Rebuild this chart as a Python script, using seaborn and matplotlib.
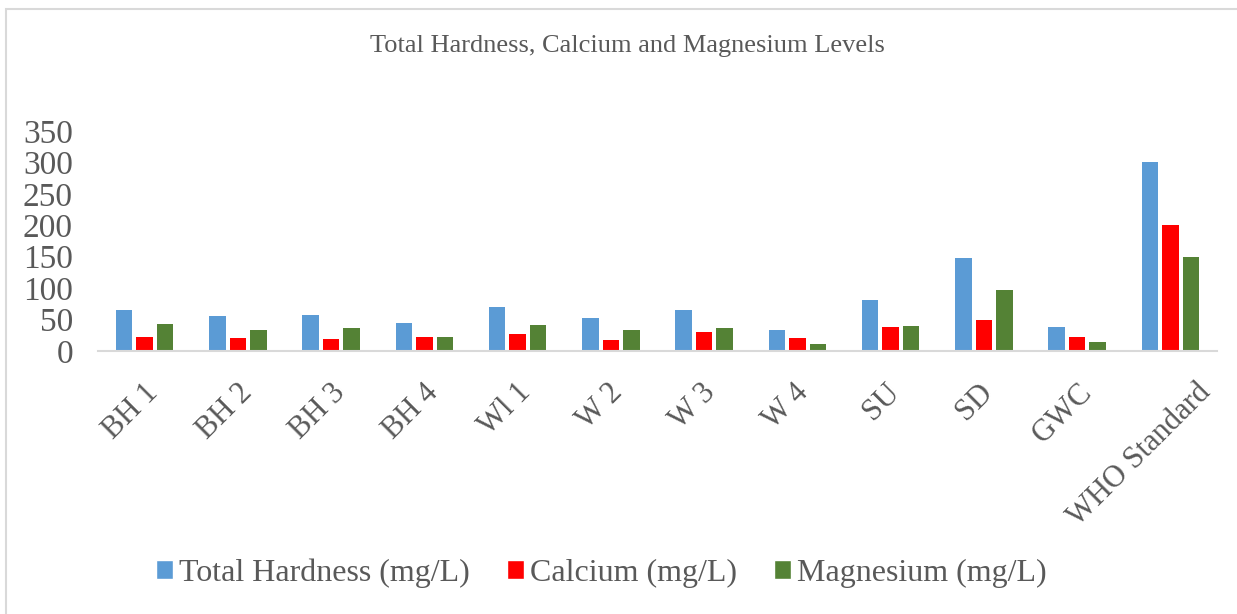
import pandas as pd
import numpy as np
import matplotlib.pyplot as plt
import matplotlib.transforms as mtransforms
import seaborn as sns
from matplotlib.patches import Rectangle, Patch

sites = ["BH 1", "BH 2", "BH 3", "BH 4", "Wl 1", "W 2", "W 3", "W 4",
         "SU", "SD", "GWC", "WHO Standard"]
total_hardness = [66, 56, 57, 45, 70, 53, 66, 33, 81, 148, 38, 300]
calcium = [22, 21, 19, 22, 27, 17, 30, 20, 39, 50, 23, 200]
magnesium = [43, 33, 36, 22, 42, 34, 36, 11, 40, 97, 14, 150]

series = ["Total Hardness (mg/L)", "Calcium (mg/L)", "Magnesium (mg/L)"]
colors = ["#5B9BD5", "#FF0000", "#548235"]

df = pd.DataFrame({"Site": sites, series[0]: total_hardness,
                   series[1]: calcium, series[2]: magnesium})
long = df.melt(id_vars="Site", var_name="Parameter", value_name="Value")

sns.set_theme(style="white")
plt.rcParams["font.family"] = ["Liberation Serif", "DejaVu Serif"]
text_color = "#595959"

fig = plt.figure(figsize=(12.37, 6.14), dpi=100)
ax = fig.add_axes([0.0792, 0.4283, 0.9046, 0.3583])

sns.barplot(data=long, x="Site", y="Value", hue="Parameter",
            palette=dict(zip(series, colors)), saturation=1,
            width=0.66, gap=0.2, edgecolor="none", ax=ax, legend=False)

ax.set_ylim(0, 350)
ax.set_yticks(range(0, 351, 50))
ax.set_xlim(-0.5, len(sites) - 0.5)
ax.set_xlabel("")
ax.set_ylabel("")
for s in ["top", "right", "left"]:
    ax.spines[s].set_visible(False)
ax.spines["bottom"].set_color("#D9D9D9")
ax.spines["bottom"].set_linewidth(1.5)
ax.tick_params(axis="both", length=0, colors=text_color)
ax.tick_params(axis="y", labelsize=24, pad=18)
ax.set_xticklabels([])

# rotated category labels, anchored like Excel (top, ~70% across)
trans = mtransforms.blended_transform_factory(ax.transData, ax.transAxes)
labels = []
for i, name in enumerate(sites):
    t = ax.text(i, 0, name, transform=trans, rotation=45, ha="center",
                va="top", fontsize=22, color=text_color)
    labels.append(t)
fig.canvas.draw()
renderer = fig.canvas.get_renderer()
for i, t in enumerate(labels):
    w = t.get_window_extent(renderer).width
    t.set_transform(trans + mtransforms.ScaledTranslation(
        -0.2 * w / fig.dpi, -27 / fig.dpi, fig.dpi_scale_trans))

fig.text(0.507, 0.925, "Total Hardness, Calcium and Magnesium Levels",
         ha="center", va="center", fontsize=19, color=text_color)

handles = [Patch(facecolor=c, label=l) for c, l in zip(colors, series)]
fig.legend(handles=handles, loc="center", bbox_to_anchor=(0.486, 0.067),
           ncol=3, frameon=False, fontsize=23, handlelength=0.53,
           handleheight=0.53, handletextpad=0.2, columnspacing=1.15,
           labelcolor=text_color)

fig.patches.append(Rectangle((6 / 1237, -0.1), 1.2, 1 - 9 / 614 + 0.1,
                             transform=fig.transFigure, fill=False,
                             edgecolor="#D9D9D9", linewidth=1.5))

fig.savefig("out.png", dpi=100)
